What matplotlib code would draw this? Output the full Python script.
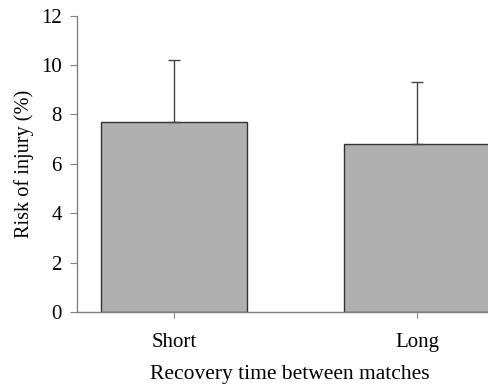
import matplotlib.pyplot as plt

plt.rcParams['font.family'] = ['Liberation Serif', 'DejaVu Serif']

groups = ['Short', 'Long']
risk = [7.7, 6.8]
sd = [2.5, 2.5]

fig = plt.figure(figsize=(4.88, 3.88), dpi=100)
ax = fig.add_axes([0.158, 0.196, 0.842, 0.764])

x = range(len(groups))
ax.bar(x, risk, width=0.6, color='#b0b0b0', edgecolor='#333333', linewidth=1.0, zorder=2)
ax.errorbar(x, risk, yerr=[[0, 0], sd], fmt='none', ecolor='#444444',
            elinewidth=1.0, capsize=4, capthick=1.0, zorder=3)

ax.set_xlim(-0.398, 1.29)
ax.set_ylim(0, 12)
ax.set_yticks(range(0, 13, 2))
ax.set_xticks(list(x))
ax.set_xticklabels(groups)

for s in ['top', 'right']:
    ax.spines[s].set_visible(False)
for s in ['left', 'bottom']:
    ax.spines[s].set_color('#808080')
    ax.spines[s].set_linewidth(1.0)

ax.tick_params(axis='y', direction='out', length=5, color='#808080', labelsize=15, pad=6)
ax.tick_params(axis='x', direction='out', length=4, color='#808080', labelsize=15, pad=11)

ax.set_ylabel('Risk of injury (%)', fontsize=14.6, labelpad=5)
ax.set_xlabel('Recovery time between matches', fontsize=15.5)
ax.xaxis.set_label_coords(0.518, -0.18)

fig.savefig('out.png', dpi=100)
